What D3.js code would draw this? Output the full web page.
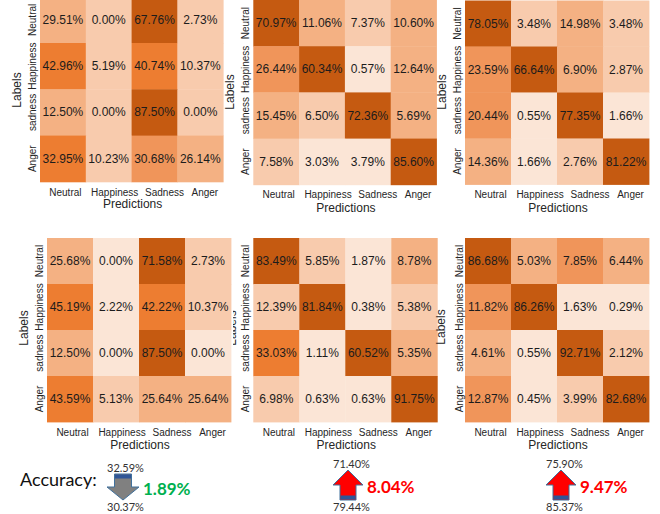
<!DOCTYPE html>
<html><head><meta charset="utf-8">
<script src="https://cdn.jsdelivr.net/npm/d3@7/dist/d3.min.js"></script>
<style>body{margin:0;background:#fff}svg{display:block}</style>
</head><body>
<svg id="c" width="660" height="514"></svg>
<script>
// ---------- data ----------
const predictions = ["Neutral", "Happiness", "Sadness", "Anger"];
const labels = ["Neutral", "Happiness", "sadness", "Anger"];

const m1 = [[29.51, 0.00, 67.76, 2.73], [42.96, 5.19, 40.74, 10.37], [12.50, 0.00, 87.50, 0.00], [32.95, 10.23, 30.68, 26.14]];
const m2 = [[70.97, 11.06, 7.37, 10.60], [26.44, 60.34, 0.57, 12.64], [15.45, 6.50, 72.36, 5.69], [7.58, 3.03, 3.79, 85.60]];
const m3 = [[78.05, 3.48, 14.98, 3.48], [23.59, 66.64, 6.90, 2.87], [20.44, 0.55, 77.35, 1.66], [14.36, 1.66, 2.76, 81.22]];
const m4 = [[25.68, 0.00, 71.58, 2.73], [45.19, 2.22, 42.22, 10.37], [12.50, 0.00, 87.50, 0.00], [43.59, 5.13, 25.64, 25.64]];
const m5 = [[83.49, 5.85, 1.87, 8.78], [12.39, 81.84, 0.38, 5.38], [33.03, 1.11, 60.52, 5.35], [6.98, 0.63, 0.63, 91.75]];
const m6 = [[86.68, 5.03, 7.85, 6.44], [11.82, 86.26, 1.63, 0.29], [4.61, 0.55, 92.71, 2.12], [12.87, 0.45, 3.99, 82.68]];

// shade level of every cell (0 = lightest, 5 = darkest)
const s1 = [[2, 1, 5, 1], [4, 1, 4, 1], [2, 1, 5, 1], [4, 1, 3, 2]];
const s2 = [[5, 2, 1, 2], [3, 5, 0, 2], [2, 1, 5, 2], [1, 0, 0, 5]];
const s3 = [[5, 1, 2, 1], [3, 5, 2, 1], [3, 0, 5, 0], [2, 0, 1, 5]];
const s4 = [[2, 0, 5, 1], [4, 0, 4, 1], [2, 0, 5, 0], [4, 1, 2, 2]];
const s5 = [[5, 1, 0, 2], [1, 5, 0, 1], [4, 0, 5, 2], [1, 0, 0, 5]];
const s6 = [[5, 2, 3, 2], [3, 5, 0, 0], [2, 0, 5, 1], [3, 0, 1, 5]];

const shadeColors = ["#FBE5D6", "#F8CBAD", "#F4B183", "#F0955A", "#ED7D31", "#C55A11"];

const accBefore = [32.59, 71.40, 75.90];
const accAfter = [30.37, 79.44, 85.37];
const accDelta = [1.89, 8.04, 9.47];
const accDir = ["down", "up", "up"];

// ---------- layout ----------
const svg = d3.select("#c");
const FONT = "'Liberation Sans', Arial, sans-serif";
const color = d3.scaleOrdinal().domain(d3.range(shadeColors.length)).range(shadeColors);
const xTickNudge = [2.5, 6, 10, 4.5];

const layouts = [
  {m: m1, s: s1, x0: 40, y0: -3.3, cw: 45.8, ch: 46.3, xt: 192, pr: 204, lx: 17, ly: 90, yt: 32.5},
  {m: m2, s: s2, x0: 253.3, y0: 0, cw: 45.8, ch: 46.2, xt: 194.5, pr: 208, lx: 230, ly: 92, yt: 245},
  {m: m3, s: s3, x0: 465, y0: 0.5, cw: 46, ch: 46, xt: 194.5, pr: 208, lx: 442, ly: 92, yt: 457.5},
  {m: m5, s: s5, x0: 253.3, y0: 238, cw: 46, ch: 46, xt: 432, pr: 445, lx: 232, ly: 328, yt: 245.5},
  {m: m4, s: s4, x0: 47, y0: 238, cw: 46, ch: 46, xt: 432, pr: 445, lx: 24, ly: 328, yt: 39, bg: [0, 226, 233, 232]},
  {m: m6, s: s6, x0: 465, y0: 238, cw: 46, ch: 46, xt: 432, pr: 445, lx: 441, ly: 327, yt: 459}
];

function drawPanel(L) {
  const g = svg.append("g");
  if (L.bg) g.append("rect").attr("x", L.bg[0]).attr("y", L.bg[1]).attr("width", L.bg[2]).attr("height", L.bg[3]).attr("fill", "#fff");
  const x = d3.scaleBand().domain(predictions).range([L.x0, L.x0 + 4 * L.cw]);
  const y = d3.scaleBand().domain(labels).range([L.y0, L.y0 + 4 * L.ch]);
  const cells = [];
  L.m.forEach((row, i) => row.forEach((v, j) => cells.push({r: labels[i], c: predictions[j], v, s: L.s[i][j]})));

  g.append("g").selectAll("rect").data(cells).join("rect")
    .attr("x", d => x(d.c)).attr("y", d => y(d.r))
    .attr("width", x.bandwidth() + 0.4).attr("height", y.bandwidth() + 0.4)
    .attr("fill", d => color(d.s));

  g.append("g").selectAll("text").data(cells).join("text")
    .attr("x", d => x(d.c) + x.bandwidth() / 2)
    .attr("y", d => y(d.r) + y.bandwidth() / 2)
    .attr("text-anchor", "middle").attr("dominant-baseline", "central")
    .attr("font-family", FONT).attr("font-size", 12).attr("fill", "#1c1c1c")
    .text(d => d.v.toFixed(2) + "%");

  // x axis tick labels
  const xa = g.append("g").attr("transform", `translate(0,${L.xt})`)
    .call(d3.axisBottom(x).tickSize(0).tickPadding(0));
  xa.select(".domain").remove();
  xa.selectAll("text").attr("y", 0).attr("dy", "0.35em").attr("dx", (d, i) => xTickNudge[i])
    .attr("font-family", FONT).attr("font-size", 10).attr("fill", "#262626");

  // y axis tick labels (rotated)
  const ya = g.append("g").attr("transform", `translate(${L.yt},0)`)
    .call(d3.axisLeft(y).tickSize(0).tickPadding(0));
  ya.select(".domain").remove();
  ya.selectAll("text").attr("x", null).attr("dy", "0.35em")
    .attr("text-anchor", "middle").attr("transform", "rotate(-90)")
    .attr("font-family", FONT).attr("font-size", 10).attr("fill", "#262626");

  g.append("text").attr("x", L.x0 + 2 * L.cw + 1).attr("y", L.pr)
    .attr("text-anchor", "middle").attr("dominant-baseline", "central")
    .attr("font-family", FONT).attr("font-size", 12).attr("fill", "#262626")
    .text("Predictions");

  g.append("text").attr("transform", `translate(${L.lx},${L.ly}) rotate(-90)`)
    .attr("text-anchor", "middle").attr("dominant-baseline", "central")
    .attr("font-family", FONT).attr("font-size", 12).attr("fill", "#262626")
    .text("Labels");
}
layouts.forEach(drawPanel);

// ---------- accuracy row ----------
const AFONT = "Lato, 'Liberation Sans', sans-serif";
svg.append("text").attr("x", 20).attr("y", 479).attr("dominant-baseline", "central")
  .attr("font-family", AFONT).attr("font-size", 18).attr("fill", "#111").text("Accuracy:");

const accLayout = [
  {ax: 107, ay: 474, w: 32, h: 26, hh: 13, sw: 17},
  {ax: 333, ay: 470, w: 30, h: 30, hh: 15, sw: 16},
  {ax: 546, ay: 470, w: 30, h: 30, hh: 15, sw: 16}
];

accDir.forEach((dir, i) => {
  const A = accLayout[i];
  const g = svg.append("g").attr("transform", `translate(${A.ax},${A.ay})`);
  const c = A.w / 2, hs = A.sw / 2;
  let pts;
  if (dir === "up") {
    pts = [[c, 0], [A.w, A.hh], [c + hs, A.hh], [c + hs, A.h], [c - hs, A.h], [c - hs, A.hh], [0, A.hh]];
  } else {
    pts = [[c, A.h], [A.w, A.h - A.hh], [c + hs, A.h - A.hh], [c + hs, 0], [c - hs, 0], [c - hs, A.h - A.hh], [0, A.h - A.hh]];
  }
  const fill = dir === "up" ? "#FF0000" : "#808080";
  g.append("polygon").attr("points", pts.map(p => p.join(",")).join(" "))
    .attr("fill", fill).attr("stroke", "#41719C").attr("stroke-width", 1);
  g.append("rect").attr("x", c - hs + 0.5).attr("width", A.sw - 1).attr("height", 4)
    .attr("y", dir === "up" ? A.h - 4.5 : 0.5).attr("fill", "#2F5597");

  svg.append("text").attr("x", A.ax).attr("y", A.ay - 7).attr("dominant-baseline", "central")
    .attr("font-family", AFONT).attr("font-size", 11).attr("fill", "#333")
    .text(accBefore[i].toFixed(2) + "%");
  svg.append("text").attr("x", A.ax).attr("y", A.ay + A.h + 6).attr("dominant-baseline", "central")
    .attr("font-family", AFONT).attr("font-size", 11).attr("fill", "#333")
    .text(accAfter[i].toFixed(2) + "%");
  svg.append("text").attr("x", A.ax + A.w + 4).attr("y", A.ay + A.h / 2 + 1).attr("dominant-baseline", "central")
    .attr("font-family", AFONT).attr("font-size", 17).attr("font-weight", "bold")
    .attr("fill", dir === "up" ? "#FF0000" : "#00B050")
    .text(accDelta[i].toFixed(2) + "%");
});
</script>
</body></html>
